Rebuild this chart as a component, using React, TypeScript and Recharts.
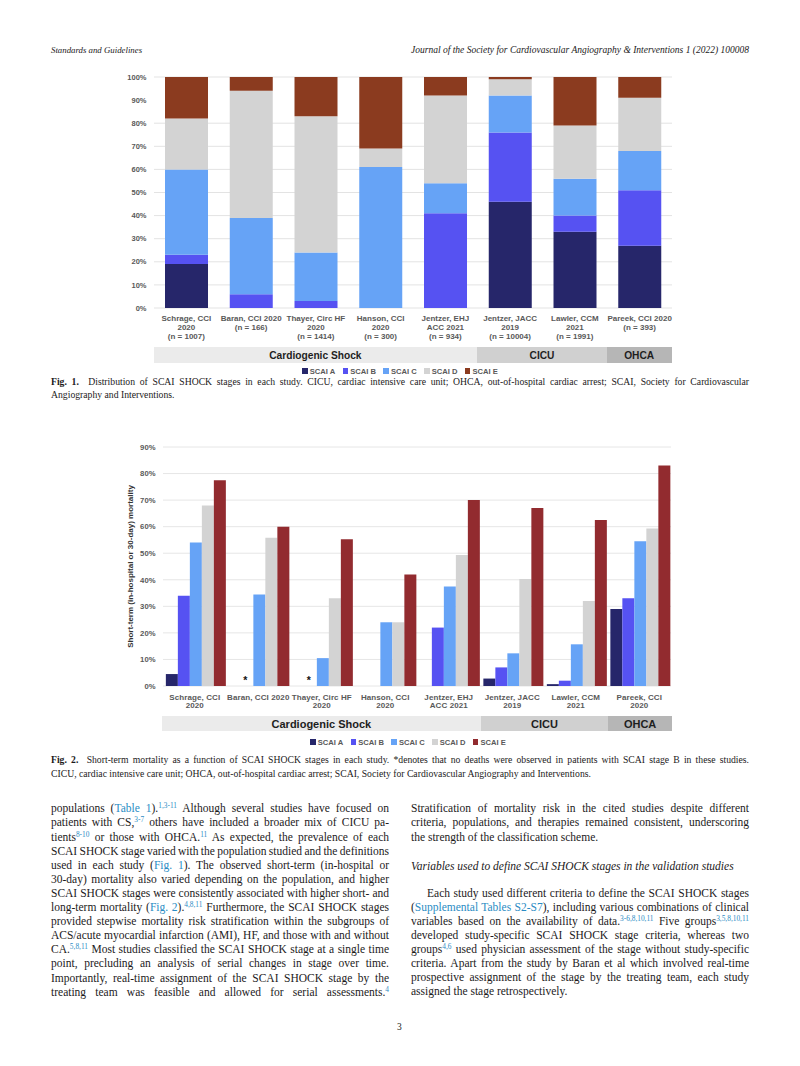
import React, { useLayoutEffect, useRef, useState } from 'react';
import { BarChart, Bar, XAxis, YAxis, CartesianGrid, Legend, ReferenceDot } from 'recharts';

// ---------- data ----------
const studies = ['Schrage 2020', 'Baran 2020', 'Thayer 2020', 'Hanson 2020', 'Jentzer EHJ 2021', 'Jentzer JACC 2019', 'Lawler 2021', 'Pareek 2020'];
const fig1Labels = [
  ['Schrage, CCI', '2020', '(n = 1007)'],
  ['Baran, CCI 2020', '(n = 166)'],
  ['Thayer, Circ HF', '2020', '(n = 1414)'],
  ['Hanson, CCI', '2020', '(n = 300)'],
  ['Jentzer, EHJ', 'ACC 2021', '(n = 934)'],
  ['Jentzer, JACC', '2019', '(n = 10004)'],
  ['Lawler, CCM', '2021', '(n = 1991)'],
  ['Pareek, CCI 2020', '(n = 393)'],
];
const fig2Labels = [
  ['Schrage, CCI', '2020'],
  ['Baran, CCI 2020'],
  ['Thayer, Circ HF', '2020'],
  ['Hanson, CCI', '2020'],
  ['Jentzer, EHJ', 'ACC 2021'],
  ['Jentzer, JACC', '2019'],
  ['Lawler, CCM', '2021'],
  ['Pareek, CCI', '2020'],
];
const seriesNames = ['SCAI A', 'SCAI B', 'SCAI C', 'SCAI D', 'SCAI E'];

// Fig 1: distribution (%)
const distA = [19, 0, 0, 0, 0, 46, 33, 27];
const distB = [4, 6, 3, 0, 41, 30, 7, 24];
const distC = [37, 33, 21, 61, 13, 16, 16, 17];
const distD = [22, 55, 59, 8, 38, 7, 23, 23];
const distE = [18, 6, 17, 31, 8, 1, 21, 9];

// Fig 2: short-term mortality (%)
const mortA = [4.5, 0, 0, 0, 0, 2.8, 0.7, 29];
const mortB = [34, 0, 0, 0, 22, 7, 2, 33];
const mortC = [54, 34.5, 10.5, 24, 37.5, 12.3, 15.7, 54.5];
const mortD = [68, 55.8, 33, 24, 49.3, 40.3, 32, 59.3];
const mortE = [77.5, 60, 55.3, 42, 70, 67, 62.5, 83];
const noDeathsB = ['', '*', '*', '', '', '', '', ''];

const fig1Ticks = [0, 10, 20, 30, 40, 50, 60, 70, 80, 90, 100];
const fig2Ticks = [0, 10, 20, 30, 40, 50, 60, 70, 80, 90];

const groupNames = ['Cardiogenic Shock', 'CICU', 'OHCA'];
const groupCounts = [5, 2, 1];

// ---------- styles ----------
const SERIF = '"Liberation Serif", "Times New Roman", serif';
const SANS = '"Liberation Sans", Arial, sans-serif';
const TEXT = '#1c1a1b';
const LINK = '#2a8cc4';
const TICK = '#595959';
const colA = '#26266a';
const colB = '#5652f2';
const colC = '#66a3f6';
const colD = '#d3d3d3';
const colE1 = '#8b3b1f';
const colE2 = '#922b2f';
const bandColors = ['#ebebeb', '#d0d0d0', '#b6b6b6'];

// chart 1 layout
const C1_LEFT = 103.5;
const C1_W = 578;
const C1_ML = 10;
const C1_MR = 10;
const C1_YW = 40;
const C1_PLOT_L = C1_LEFT + C1_ML + C1_YW;
const C1_PLOT_W = C1_W - C1_ML - C1_MR - C1_YW;

// chart 2 layout
const C2_LEFT = 105;
const C2_W = 576;
const C2_ML = 18;
const C2_MR = 10;
const C2_YW = 40;
const C2_PLOT_L = C2_LEFT + C2_ML + C2_YW;
const C2_PLOT_W = C2_W - C2_ML - C2_MR - C2_YW;
const C2_CAT_GAP = 0.045;
const C2_BAND = C2_PLOT_W / studies.length;
const C2_BAR = Math.floor((C2_BAND - 2 * C2_CAT_GAP * C2_BAND) / seriesNames.length);
const STAR_DX = -C2_BAR - 2; // series B sits one bar left of the group centre

const fig1Data = studies.map((s, i) => ({ study: s, A: distA[i], B: distB[i], C: distC[i], D: distD[i], E: distE[i] }));
const fig2Data = studies.map((s, i) => ({ study: s, A: mortA[i], B: mortB[i], C: mortC[i], D: mortD[i], E: mortE[i] }));

const makeTick = (labels: string[][], fontSize: number, firstDy: number, lineH: number, letterSpacing: number) =>
  (props: any) => {
    const { x, y, payload } = props;
    const lines = labels[payload.index] || [];
    return (
      <text x={x} y={y} textAnchor="middle" fill={TICK} fontSize={fontSize} fontWeight="bold" fontFamily={SANS} letterSpacing={letterSpacing}>
        {lines.map((l, i) => (
          <tspan key={i} x={x} dy={i === 0 ? firstDy : lineH}>{l}</tspan>
        ))}
      </text>
    );
  };

const makeLegend = (padLeft: number) => (props: any) => {
  const { payload } = props;
  return (
    <div style={{ display: 'flex', justifyContent: 'center', gap: 7.5, paddingLeft: padLeft, height: 14, alignItems: 'center', fontFamily: SANS, fontWeight: 'bold', fontSize: 7.6, color: TICK }}>
      {(payload || []).map((p: any, i: number) => (
        <span key={i} style={{ display: 'inline-flex', alignItems: 'center' }}>
          <span style={{ display: 'inline-block', width: 5.5, height: 5.5, background: p.color, marginRight: 2 }} />
          {p.value}
        </span>
      ))}
    </div>
  );
};

const Bands = ({ left, top, width, height, fontSize }: any) => {
  const bw = width / studies.length;
  let acc = 0;
  return (
    <>
      {groupNames.map((g, i) => {
        const x = left + acc * bw;
        acc += groupCounts[i];
        return (
          <div key={g} style={{ position: 'absolute', left: x, top, width: groupCounts[i] * bw, height, background: bandColors[i], display: 'flex', alignItems: 'center', justifyContent: 'center', fontFamily: SANS, fontWeight: 'bold', fontSize, color: '#1e1e1e' }}>
            {g}
          </div>
        );
      })}
    </>
  );
};

const Sup = ({ children }: any) => (
  <sup style={{ fontSize: '0.64em', lineHeight: 0, verticalAlign: '0.5em', color: LINK }}>{children}</sup>
);
const Lk = ({ children }: any) => <span style={{ color: LINK }}>{children}</span>;

// a single typeset line; tightens word spacing (then font size) if the line would overflow
const Line = ({ left, y, width, children, justify = true, fontSize = 11.5, italic = false, indent = 0 }: any) => {
  const ref = useRef<HTMLDivElement>(null);
  const [fit, setFit] = useState({ ws: 0, fs: fontSize });
  useLayoutEffect(() => {
    const el = ref.current;
    if (!el) return;
    if (el.scrollWidth > el.clientWidth + 0.5) {
      if (fit.ws > -1.6) setFit({ ws: +(fit.ws - 0.2).toFixed(2), fs: fit.fs });
      else if (fit.fs > fontSize - 2) setFit({ ws: fit.ws, fs: +(fit.fs - 0.1).toFixed(2) });
    }
  }, [fit]);
  return (
    <div ref={ref} style={{ position: 'absolute', left, top: y - 7, width, height: 14, lineHeight: '14px', fontFamily: SERIF, fontSize: fit.fs, wordSpacing: fit.ws, color: TEXT, fontStyle: italic ? 'italic' : 'normal', textAlign: justify ? 'justify' : 'left', textAlignLast: justify ? 'justify' : 'left', whiteSpace: 'nowrap', paddingLeft: indent, boxSizing: 'border-box' }}>
      {children}
    </div>
  );
};

const leftLines = [
  <>populations (<Lk>Table 1</Lk>).<Sup>1,3-11</Sup> Although several studies have focused on</>,
  <>patients with CS,<Sup>3-7</Sup> others have included a broader mix of CICU pa-</>,
  <>tients<Sup>8-10</Sup> or those with OHCA.<Sup>11</Sup> As expected, the prevalence of each</>,
  <>SCAI SHOCK stage varied with the population studied and the definitions</>,
  <>used in each study (<Lk>Fig. 1</Lk>). The observed short-term (in-hospital or</>,
  <>30-day) mortality also varied depending on the population, and higher</>,
  <>SCAI SHOCK stages were consistently associated with higher short- and</>,
  <>long-term mortality (<Lk>Fig. 2</Lk>).<Sup>4,8,11</Sup> Furthermore, the SCAI SHOCK stages</>,
  <>provided stepwise mortality risk stratification within the subgroups of</>,
  <>ACS/acute myocardial infarction (AMI), HF, and those with and without</>,
  <>CA.<Sup>5,8,11</Sup> Most studies classified the SCAI SHOCK stage at a single time</>,
  <>point, precluding an analysis of serial changes in stage over time.</>,
  <>Importantly, real-time assignment of the SCAI SHOCK stage by the</>,
  <>treating team was feasible and allowed for serial assessments.<Sup>4</Sup></>,
];

const rightTop = [
  <>Stratification of mortality risk in the cited studies despite different</>,
  <>criteria, populations, and therapies remained consistent, underscoring</>,
];
const rightPara = [
  <>Each study used different criteria to define the SCAI SHOCK stages</>,
  <>(<Lk>Supplemental Tables S2-S7</Lk>), including various combinations of clinical</>,
  <>variables based on the availability of data.<Sup>3-6,8,10,11</Sup> Five groups<Sup>3,5,8,10,11</Sup></>,
  <>developed study-specific SCAI SHOCK stage criteria, whereas two</>,
  <>groups<Sup>4,6</Sup> used physician assessment of the stage without study-specific</>,
  <>criteria. Apart from the study by Baran et al which involved real-time</>,
  <>prospective assignment of the stage by the treating team, each study</>,
];

const Chart1 = () => (
  <div style={{ position: 'absolute', left: C1_LEFT, top: 70 }}>
    <BarChart width={C1_W} height={308} data={fig1Data} margin={{ top: 7, right: C1_MR, left: C1_ML, bottom: 0 }} barCategoryGap="17%">
      <CartesianGrid vertical={false} stroke="#e3e3e3" />
      <XAxis dataKey="study" axisLine={false} tickLine={false} tickSize={0} tickMargin={0} height={56} interval={0} tick={makeTick(fig1Labels, 8, 13, 9.2, 0)} />
      <YAxis domain={[0, 100]} ticks={fig1Ticks} width={C1_YW} axisLine={false} tickLine={false} tickSize={0} tickMargin={7.5} tickFormatter={(v: number) => `${v}%`} tick={{ fontSize: 7.5, fontWeight: 'bold', fill: TICK, fontFamily: SANS }} />
      <Legend verticalAlign="bottom" height={14} content={makeLegend(15)} />
      <Bar dataKey="A" name={seriesNames[0]} stackId="s" fill={colA} isAnimationActive={false} />
      <Bar dataKey="B" name={seriesNames[1]} stackId="s" fill={colB} isAnimationActive={false} />
      <Bar dataKey="C" name={seriesNames[2]} stackId="s" fill={colC} isAnimationActive={false} />
      <Bar dataKey="D" name={seriesNames[3]} stackId="s" fill={colD} isAnimationActive={false} />
      <Bar dataKey="E" name={seriesNames[4]} stackId="s" fill={colE1} isAnimationActive={false} />
    </BarChart>
  </div>
);

const yTitle = (props: any) => {
  const vb = props.viewBox || {};
  const cx = 130.3 - C2_LEFT;
  const cy = (vb.y || 0) + (vb.height || 0) / 2;
  return (
    <text x={cx} y={cy} transform={`rotate(-90, ${cx}, ${cy})`} textAnchor="middle" dominantBaseline="central" fontSize={8} fontWeight="bold" fill="#333" fontFamily={SANS}>
      Short-term (in-hospital or 30-day) mortality
    </text>
  );
};

const starShape = (props: any) => {
  const { cx, cy } = props;
  if (!isFinite(cx) || !isFinite(cy)) return <g />;
  return (
    <text x={cx + STAR_DX} y={cy - 2.5} textAnchor="middle" fill="#111" fontSize={10.5} fontWeight="bold" fontFamily={SANS}>*</text>
  );
};

const Chart2 = () => (
  <div style={{ position: 'absolute', left: C2_LEFT, top: 440 }}>
    <BarChart width={C2_W} height={309} data={fig2Data} margin={{ top: 7, right: C2_MR, left: C2_ML, bottom: 0 }} barCategoryGap={`${C2_CAT_GAP * 100}%`} barGap={0}>
      <CartesianGrid vertical={false} stroke="#e6e6e6" />
      <XAxis dataKey="study" axisLine={false} tickLine={false} tickSize={0} tickMargin={0} height={49} interval={0} tick={makeTick(fig2Labels, 8, 13.5, 8.7, 0.1)} />
      <YAxis domain={[0, 90]} ticks={fig2Ticks} width={C2_YW} axisLine={false} tickLine={false} tickSize={0} tickMargin={7.5} tickFormatter={(v: number) => `${v}%`} tick={{ fontSize: 7.7, fontWeight: 'bold', fill: TICK, fontFamily: SANS }} label={{ content: yTitle }} />
      <Legend verticalAlign="bottom" height={14} content={makeLegend(22)} />
      <Bar dataKey="A" name={seriesNames[0]} fill={colA} isAnimationActive={false} />
      <Bar dataKey="B" name={seriesNames[1]} fill={colB} isAnimationActive={false} />
      <Bar dataKey="C" name={seriesNames[2]} fill={colC} isAnimationActive={false} />
      <Bar dataKey="D" name={seriesNames[3]} fill={colD} isAnimationActive={false} />
      <Bar dataKey="E" name={seriesNames[4]} fill={colE2} isAnimationActive={false} />
      {studies.map((s, i) =>
        noDeathsB[i] ? <ReferenceDot key={s} x={s} y={mortB[i]} r={4} shape={starShape} ifOverflow="visible" /> : null
      )}
    </BarChart>
  </div>
);

export default function App() {
  const L = 51;
  const R = 411;
  const CW = 338;
  return (
    <div style={{ position: 'absolute', left: 0, top: 0, width: 800, height: 1066, background: '#fff', overflow: 'hidden' }}>
      {/* header */}
      <div style={{ position: 'absolute', left: L, top: 45, fontFamily: SERIF, fontStyle: 'italic', fontSize: 8.8, color: TEXT, whiteSpace: 'nowrap' }}>Standards and Guidelines</div>
      <div style={{ position: 'absolute', right: 800 - 749, top: 45, fontFamily: SERIF, fontStyle: 'italic', fontSize: 9.5, color: TEXT, whiteSpace: 'nowrap' }}>Journal of the Society for Cardiovascular Angiography &amp; Interventions 1 (2022) 100008</div>

      <Chart1 />
      <Bands left={C1_PLOT_L} top={347} width={C1_PLOT_W} height={16} fontSize={10.2} />

      {/* Fig 1 caption */}
      <Line left={L} y={381.5} width={698} fontSize={9.7}><b>Fig. 1.</b>&nbsp; Distribution of SCAI SHOCK stages in each study. CICU, cardiac intensive care unit; OHCA, out-of-hospital cardiac arrest; SCAI, Society for Cardiovascular</Line>
      <Line left={L} y={394.5} width={698} fontSize={9.7} justify={false}>Angiography and Interventions.</Line>

      <Chart2 />
      <Bands left={C2_PLOT_L - 1} top={716} width={C2_PLOT_W + 2} height={15} fontSize={11} />

      {/* Fig 2 caption */}
      <Line left={L} y={760} width={698} fontSize={9.7}><b>Fig. 2.</b>&nbsp; Short-term mortality as a function of SCAI SHOCK stages in each study. *denotes that no deaths were observed in patients with SCAI stage B in these studies.</Line>
      <Line left={L} y={773.5} width={698} fontSize={9.7} justify={false}>CICU, cardiac intensive care unit; OHCA, out-of-hospital cardiac arrest; SCAI, Society for Cardiovascular Angiography and Interventions.</Line>

      {/* left column */}
      {leftLines.map((c, i) => (
        <Line key={i} left={L} y={808.3 + i * 14.1} width={CW}>{c}</Line>
      ))}

      {/* right column */}
      {rightTop.map((c, i) => (
        <Line key={i} left={R} y={808.3 + i * 14.1} width={CW}>{c}</Line>
      ))}
      <Line left={R} y={836.5} width={CW} justify={false}>the strength of the classification scheme.</Line>
      <Line left={R} y={866} width={CW} justify={false} italic>Variables used to define SCAI SHOCK stages in the validation studies</Line>
      {rightPara.map((c, i) => (
        <Line key={i} left={R} y={893.3 + i * 14.0} width={CW} indent={i === 0 ? 16 : 0}>{c}</Line>
      ))}
      <Line left={R} y={991.3} width={CW} justify={false}>assigned the stage retrospectively.</Line>

      <div style={{ position: 'absolute', left: 397, top: 1022, fontFamily: SERIF, fontSize: 9.5, color: TEXT }}>3</div>
    </div>
  );
}
